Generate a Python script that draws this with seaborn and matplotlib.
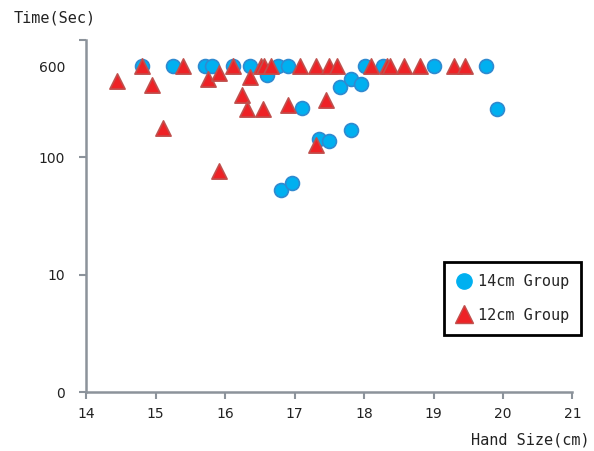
import matplotlib
matplotlib.use('Agg')
import matplotlib.pyplot as plt
import seaborn as sns
import pandas as pd
from matplotlib.lines import Line2D
from matplotlib.ticker import FixedLocator, FixedFormatter

# ---- data ----
groups = ['14cm Group', '12cm Group']

hand_14 = [14.80, 15.25, 15.71, 15.82, 16.11, 16.36, 16.61, 16.76, 16.91, 17.11,
           17.35, 17.50, 16.80, 16.96, 17.66, 17.81, 17.96, 18.02, 18.27, 17.81,
           19.01, 19.76, 19.92]
time_14 = [600, 600, 600, 600, 600, 600, 505, 600, 600, 263,
           144, 137, 53, 60, 396, 461, 424, 600, 600, 170,
           600, 600, 260]

hand_12 = [14.45, 14.80, 14.95, 15.11, 15.40, 15.75, 15.92, 15.92, 16.11, 16.25,
           16.31, 16.36, 16.55, 16.52, 16.56, 16.66, 16.91, 17.08, 17.31, 17.31,
           17.45, 17.50, 17.61, 18.10, 18.33, 18.38, 18.57, 18.81, 19.30, 19.46]
time_12 = [446, 600, 410, 179, 600, 468, 520, 77, 600, 342,
           256, 482, 259, 600, 600, 600, 282, 600, 600, 127,
           310, 600, 600, 600, 600, 600, 600, 600, 600, 600]

x_ticks = [14, 15, 16, 17, 18, 19, 20, 21]
y_ticks = [1, 10, 100, 1000]
y_tick_labels = ['0', '10', '100', '']
y_extra_tick = [600]
y_extra_label = ['600']

# ---- style ----
sns.set_theme(style='white')
plt.rcParams['font.family'] = ['DejaVu Sans']
MONO = 'DejaVu Sans Mono'
AXIS_C = '#8C939B'
BLUE, BLUE_E = '#00B0F0', '#2F8AD0'
RED, RED_E = '#EE2226', '#C0504D'

fig = plt.figure(figsize=(5.94, 4.51), dpi=100)
ax = fig.add_axes([0.1448, 0.1308, 0.8190, 0.7805])

df14 = pd.DataFrame({'hand': hand_14, 'time': time_14})
df12 = pd.DataFrame({'hand': hand_12, 'time': time_12})

sns.scatterplot(data=df14, x='hand', y='time', marker='o', s=100, color=BLUE,
                edgecolor=BLUE_E, linewidth=1.2, ax=ax, legend=False, zorder=3)
sns.scatterplot(data=df12, x='hand', y='time', marker='^', s=120, color=RED,
                edgecolor=RED_E, linewidth=1.2, ax=ax, legend=False, zorder=4)

ax.set_yscale('log')
ax.set_ylim(1, 1000)
ax.set_xlim(14, 21)
ax.set_xticks(x_ticks)
ax.set_xticklabels([str(t) for t in x_ticks])
ax.yaxis.set_major_locator(FixedLocator(y_ticks))
ax.yaxis.set_major_formatter(FixedFormatter(y_tick_labels))
ax.yaxis.set_minor_locator(FixedLocator(y_extra_tick))
ax.yaxis.set_minor_formatter(FixedFormatter(y_extra_label))

ax.set_xlabel('')
ax.set_ylabel('')
for s in ['top', 'right']:
    ax.spines[s].set_visible(False)
for s in ['left', 'bottom']:
    ax.spines[s].set_color(AXIS_C)
    ax.spines[s].set_linewidth(1.8)

ax.tick_params(axis='both', which='major', bottom=True, left=True, direction='out',
               color=AXIS_C, width=1.5, length=5, labelsize=10, labelcolor='#222222')
ax.tick_params(axis='x', which='major', pad=6)
ax.tick_params(axis='y', which='major', pad=10)
ax.tick_params(axis='y', which='minor', left=True, length=0, pad=15, labelsize=10,
               labelcolor='#222222')
ax.grid(False)

fig.text(55 / 594, 1 - 18 / 451, 'Time(Sec)', ha='center', va='center',
         family=MONO, size=11, color='#222222')
fig.text(530 / 594, 1 - 440 / 451, 'Hand Size(cm)', ha='center', va='center',
         family=MONO, size=11, color='#222222')

handles = [
    Line2D([], [], linestyle='none', marker='o', markersize=11,
           markerfacecolor=BLUE, markeredgecolor=BLUE),
    Line2D([], [], linestyle='none', marker='^', markersize=13,
           markerfacecolor=RED, markeredgecolor=RED_E),
]
leg = ax.legend(handles, groups, loc='upper left',
                bbox_to_anchor=(444 / 594, 1 - 262 / 451), bbox_transform=fig.transFigure,
                frameon=True, fancybox=False, framealpha=1, edgecolor='black',
                prop={'family': MONO, 'size': 11}, handlelength=1.0, handletextpad=0.4,
                borderpad=0.8, labelspacing=1.2, borderaxespad=0)
leg.get_frame().set_linewidth(2)

fig.savefig('out.png', dpi=100)
